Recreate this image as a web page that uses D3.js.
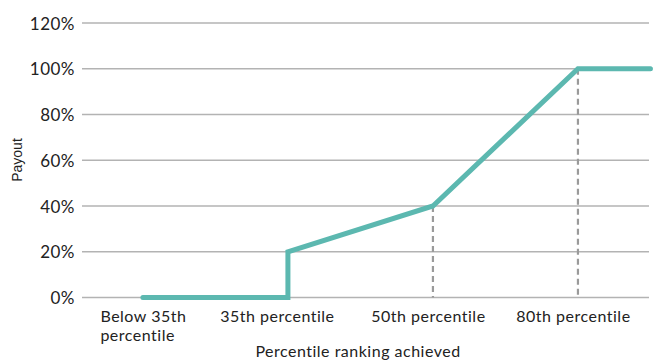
<!DOCTYPE html>
<html>
<head>
<meta charset="utf-8">
<script src="https://cdn.jsdelivr.net/npm/d3@7"></script>
<style>
  html, body { margin: 0; padding: 0; background: #fff; }
  svg { display: block; }
  .tick text { font-family: Lato, "Open Sans", sans-serif; letter-spacing: 0.5px; }
</style>
</head>
<body>
<svg id="chart" width="653" height="361"></svg>
<script>
// Category positions along the x axis (index) and their labels
const categories = ["Below 35th\npercentile", "35th percentile", "50th percentile", "80th percentile"];
const categoryIndex = [0, 1, 2, 3];
// Payout curve: x in category units, y in percent
const curveX = [0, 1, 1, 2, 3, 3.5];
const curveY = [0, 0, 20, 40, 100, 100];
// Dashed reference markers
const markerX = [2, 3];
const markerY = [40, 100];
// Y axis ticks
const yTicks = [0, 20, 40, 60, 80, 100, 120];

const svg = d3.select("#chart");
const plotLeft = 82, plotRight = 649, plotTop = 23, plotBottom = 297.5;

const x = d3.scaleLinear().domain([-0.42, 3.49]).range([plotLeft, plotRight]);
const y = d3.scaleLinear().domain([0, 120]).range([plotBottom, plotTop]);

// Gridlines
svg.append("g")
  .selectAll("line")
  .data(yTicks)
  .join("line")
  .attr("x1", plotLeft).attr("x2", plotRight)
  .attr("y1", d => y(d)).attr("y2", d => y(d))
  .attr("stroke", "#b3b3b3")
  .attr("stroke-width", 1.5);

// Y axis labels
const yAxis = svg.append("g")
  .attr("transform", `translate(${plotLeft - 7},0)`)
  .call(d3.axisLeft(y).tickValues(yTicks).tickFormat(d => d + "%").tickSize(0).tickPadding(0));
yAxis.select(".domain").remove();
yAxis.selectAll("text")
  .attr("font-size", 17)
  .attr("fill", "#222")
  .attr("dy", "0.36em");

// Dashed markers
svg.append("g")
  .selectAll("line")
  .data(markerX.map((d, i) => [d, markerY[i]]))
  .join("line")
  .attr("x1", d => x(d[0])).attr("x2", d => x(d[0]))
  .attr("y1", d => y(d[1])).attr("y2", y(0))
  .attr("stroke", "#9a9a9a")
  .attr("stroke-width", 2.2)
  .attr("stroke-dasharray", "6,4");

// Payout line
const pts = curveX.map((d, i) => [d, curveY[i]]);
svg.append("path")
  .datum(pts)
  .attr("d", d3.line().x(d => x(d[0])).y(d => y(d[1])))
  .attr("fill", "none")
  .attr("stroke", "#5cb8b0")
  .attr("stroke-width", 5)
  .attr("stroke-linecap", "round")
  .attr("stroke-linejoin", "miter");

// X axis labels
const xAxis = svg.append("g")
  .attr("transform", `translate(0,${plotBottom})`)
  .call(d3.axisBottom(x).tickValues(categoryIndex).tickFormat(i => categories[i]).tickSize(0).tickPadding(0));
xAxis.select(".domain").remove();
xAxis.selectAll(".tick text").each(function(i) {
  const t = d3.select(this);
  const lines = categories[i].split("\n");
  t.text(null)
    .attr("font-size", 16)
    .attr("fill", "#222")
    .attr("y", 24)
    .attr("dy", 0);
  if (lines.length > 1) {
    t.attr("text-anchor", "start").attr("x", -43);
  } else {
    t.attr("x", i === 1 ? -11 : -5);
  }
  lines.forEach((l, k) => {
    t.append("tspan").attr("x", t.attr("x")).attr("dy", k === 0 ? 0 : 19).text(l);
  });
});

// Axis titles
svg.append("text")
  .attr("transform", `translate(22,160) rotate(-90)`)
  .attr("text-anchor", "middle")
  .attr("font-family", "Liberation Sans, Arial, sans-serif")
  .attr("font-size", 14)
  .attr("fill", "#222")
  .text("Payout");

svg.append("text")
  .attr("x", 358).attr("y", 357)
  .attr("text-anchor", "middle")
  .attr("font-family", "Lato, 'Open Sans', sans-serif")
  .attr("font-size", 16)
  .attr("letter-spacing", "0.5px")
  .attr("fill", "#222")
  .text("Percentile ranking achieved");
</script>
</body>
</html>
